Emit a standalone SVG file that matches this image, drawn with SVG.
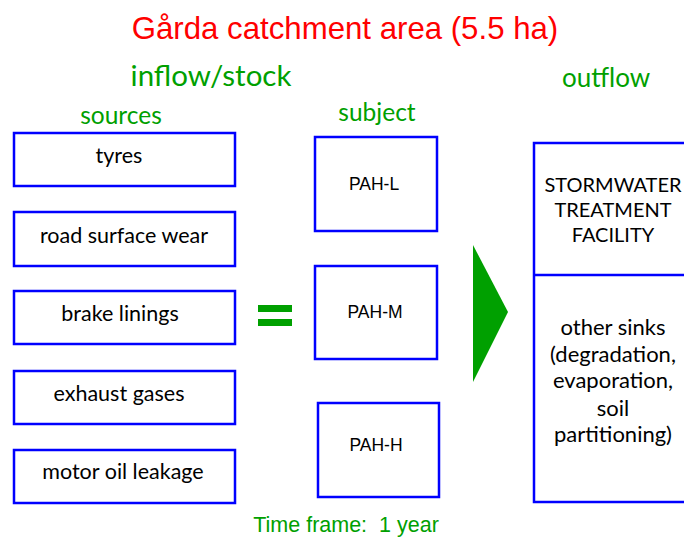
<svg xmlns="http://www.w3.org/2000/svg" width="684" height="537" viewBox="0 0 684 537">
<style>
.box{fill:#fff;stroke:#0000ff;stroke-width:2.5}
.cal{font-family:Lato,"Open Sans","Liberation Sans",sans-serif;fill:#000;text-anchor:middle}
.ari{font-family:"Liberation Sans",Arial,sans-serif;text-anchor:middle}
.g{fill:#00a000}
.src{font-size:21.5px}
.pah{font-size:17.5px;fill:#000}
.up{font-size:20px}
.out{font-size:22px}
</style>
<rect width="684" height="537" fill="#fff"/>
<text class="ari" x="345" y="39" font-size="31.2" fill="#ff0000">Gårda catchment area (5.5 ha)</text>
<text class="cal g" x="211" y="86" font-size="29.5">inflow/stock</text>
<text class="cal g" x="606" y="87" font-size="26">outflow</text>
<text class="cal g" x="121" y="124" font-size="24.5">sources</text>
<text class="cal g" x="377" y="121" font-size="24.5">subject</text>
<text class="ari g" x="346" y="532" font-size="21.5" xml:space="preserve" style="white-space:pre">Time frame:  1 year</text>
<g id="tyres"><rect class="box" x="14" y="133" width="221" height="53"/><text class="cal src" x="119" y="163">tyres</text></g>
<g id="road"><rect class="box" x="14" y="212" width="221" height="54"/><text class="cal src" x="124" y="243">road surface wear</text></g>
<g id="brake"><rect class="box" x="14" y="291" width="221" height="53"/><text class="cal src" x="120" y="321">brake linings</text></g>
<g id="exhaust"><rect class="box" x="14" y="371" width="221" height="53"/><text class="cal src" x="119" y="401">exhaust gases</text></g>
<g id="oil"><rect class="box" x="14" y="450" width="221" height="53"/><text class="cal src" x="123" y="479">motor oil leakage</text></g>
<g id="equals" class="g"><rect x="258" y="305" width="34" height="7"/><rect x="258" y="319" width="34" height="7"/></g>
<g id="pahl"><rect class="box" x="315" y="137" width="122" height="94"/><text class="ari pah" x="374" y="190">PAH-L</text></g>
<g id="pahm"><rect class="box" x="315" y="266" width="122" height="93"/><text class="ari pah" x="375" y="318">PAH-M</text></g>
<g id="pahh"><rect class="box" x="318" y="403" width="121" height="94"/><text class="ari pah" x="376" y="451">PAH-H</text></g>
<g id="connectors"><polygon points="473,245 508,312 473,382" fill="#00a000"/></g>
<g id="outflow">
<rect class="box" x="534" y="143" width="160" height="359"/>
<line x1="534" y1="275" x2="684" y2="275" stroke="#0000ff" stroke-width="2.5"/>
<text class="cal up" x="613" y="192">STORMWATER</text>
<text class="cal up" x="613" y="217">TREATMENT</text>
<text class="cal up" x="613" y="242">FACILITY</text>
<text class="cal out" x="613" y="335">other sinks</text>
<text class="cal out" x="613" y="362">(degradation,</text>
<text class="cal out" x="613" y="388">evaporation,</text>
<text class="cal out" x="613" y="416">soil</text>
<text class="cal out" x="613" y="442">partitioning)</text>
</g>
</svg>
